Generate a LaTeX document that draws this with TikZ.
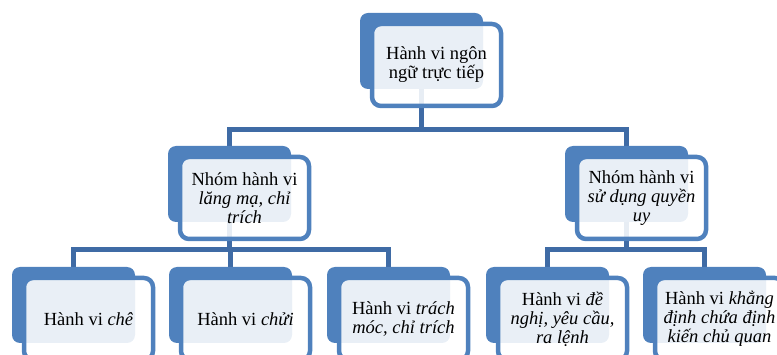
\documentclass[tikz,border=0pt]{standalone}
\usepackage{fontspec}
\setmainfont{Liberation Serif}
\usetikzlibrary{backgrounds}
\definecolor{backblue}{HTML}{4F81BD}
\definecolor{connblue}{HTML}{3F6BA5}
\tikzset{
  backbox/.style={fill=backblue, draw=none, rounded corners=8pt,
    minimum width=123pt, minimum height=76pt, inner sep=0pt},
  frontbox/.style={draw=backblue, line width=4.5pt, rounded corners=9pt,
    fill=white, fill opacity=0.88, text opacity=1, text=black,
    minimum width=129pt, minimum height=82pt, inner sep=0pt, align=center,
    font=\fontsize{18.5}{19}\selectfont},
  conn/.style={draw=connblue, line width=5pt}
}
\begin{document}
\begin{tikzpicture}[x=1pt,y=-1pt]
\useasboundingbox (0,0) rectangle (777,355);
\clip (0,0) rectangle (777,355);
% backs
\node[backbox] (tb) at (421.5,51) {};
\node[backbox] (lb) at (229.5,184) {};
\node[backbox] (rb) at (626.5,184) {};
\node[backbox] (c1b) at (73.5,305) {};
\node[backbox] (c2b) at (230.5,305) {};
\node[backbox] (c3b) at (388.5,305) {};
\node[backbox] (c4b) at (547.5,305) {};
\node[backbox] (c5b) at (704.5,305) {};
% fronts
\node[frontbox] (t) at (436.5,65) {Hành vi ngôn\\ngữ trực tiếp};
\node[frontbox] (l) at (244.5,198) {Nhóm hành vi\\\textit{lăng mạ, chỉ}\\\textit{trích}};
\node[frontbox] (r) at (641.5,198) {Nhóm hành vi\\\textit{sử dụng quyền}\\\textit{uy}};
\node[frontbox] (c1) at (88.5,319) {Hành vi \textit{chê}};
\node[frontbox] (c2) at (245.5,319) {Hành vi \textit{chửi}};
\node[frontbox] (c3) at (403.5,319) {Hành vi \textit{trách}\\\textit{móc, chỉ trích}};
\node[frontbox] (c4) at (562.5,319) {Hành vi \textit{đề}\\\textit{nghị, yêu cầu,}\\\textit{ra lệnh}};
\node[frontbox] (c5) at (719.5,319) {Hành vi \textit{khẳng}\\\textit{định chứa định}\\\textit{kiến chủ quan}};
% connectors
\coordinate (bus1) at (0,130);
\coordinate (bus2) at (0,250);
\begin{scope}[on background layer]
\draw[conn] (tb.center) -- (tb.center |- bus1) -| (lb.center);
\draw[conn] (tb.center |- bus1) -| (rb.center);
\draw[conn] (lb.center) -- (lb.center |- bus2) -| (c1b.center);
\draw[conn] (lb.center |- bus2) -| (c3b.center);
\draw[conn] (lb.center |- bus2) -| (c2b.center);
\draw[conn] (rb.center) -- (rb.center |- bus2) -| (c4b.center);
\draw[conn] (rb.center |- bus2) -| (c5b.center);
\end{scope}
\end{tikzpicture}
\end{document}
